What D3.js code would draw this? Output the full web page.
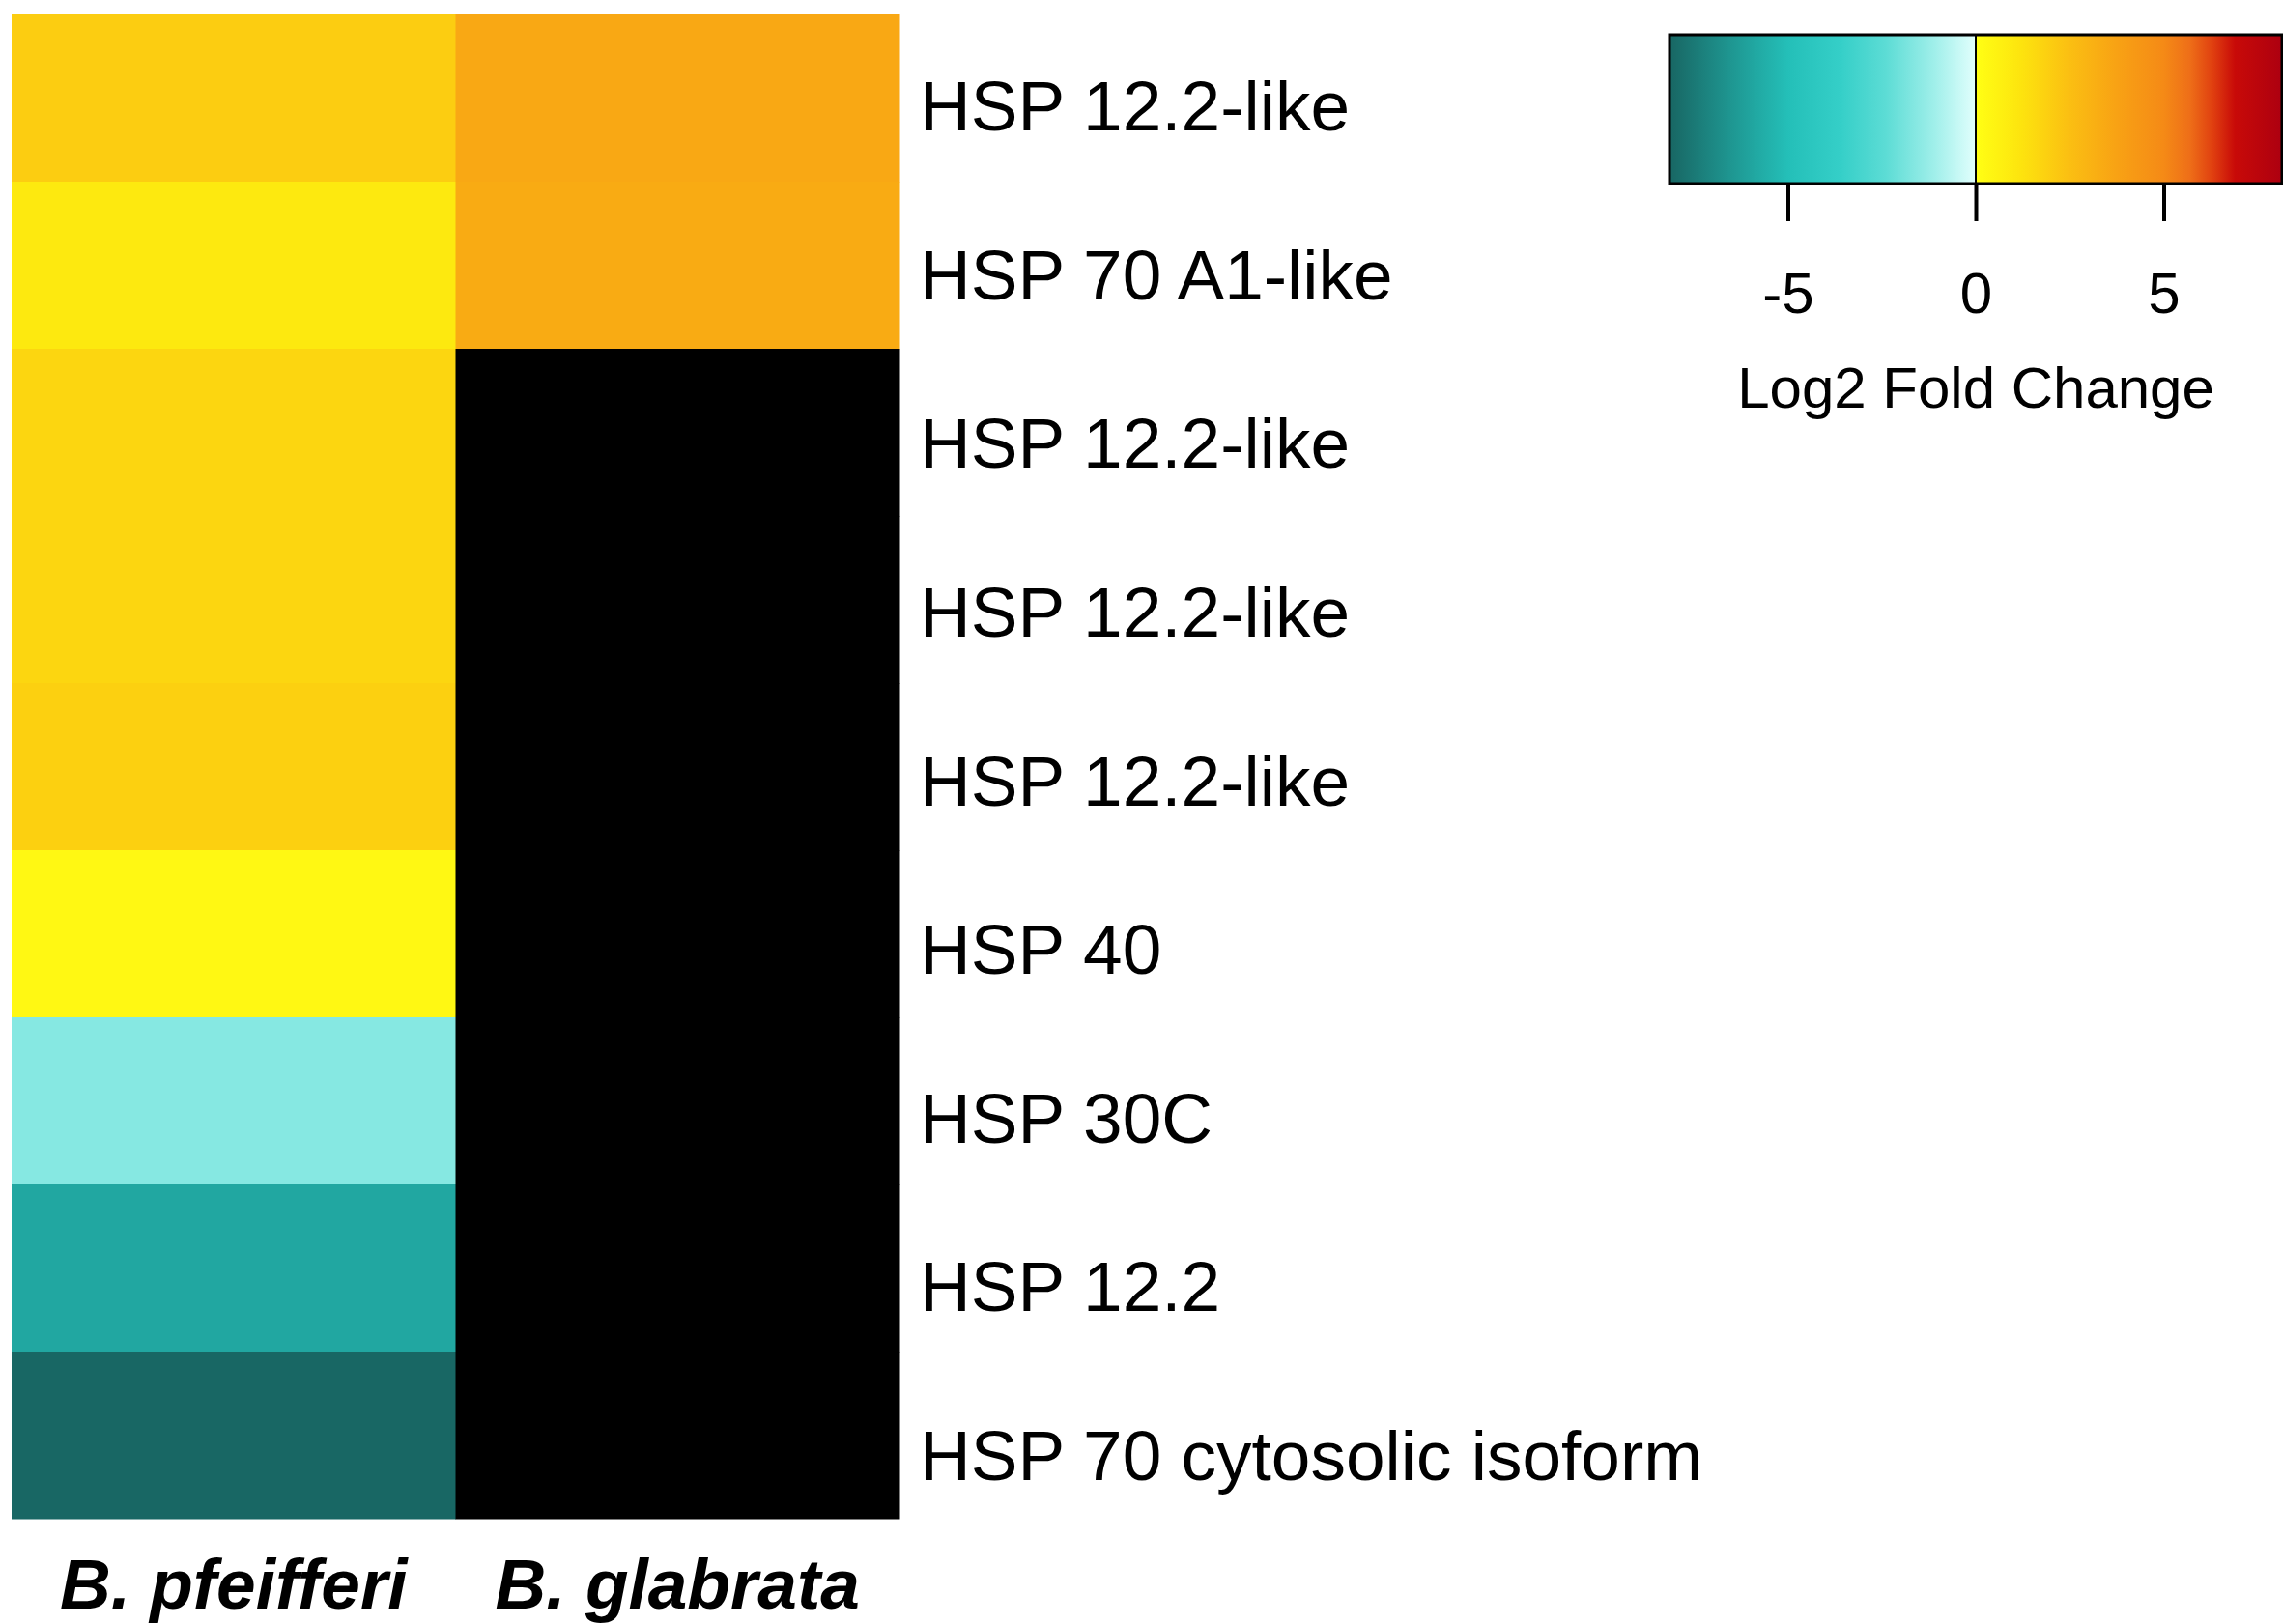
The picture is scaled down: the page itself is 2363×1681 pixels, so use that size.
<!DOCTYPE html>
<html>
<head>
<meta charset="utf-8">
<script src="https://cdn.jsdelivr.net/npm/d3@7"></script>
<style>
  body { margin: 0; background: #fff; }
  text { font-family: "Liberation Sans", Arial, sans-serif; fill: #000; }
</style>
</head>
<body>
<div class="heatContainer"></div>
<script>
// genes (rows, top to bottom)
const genes = ["HSP 12.2-like", "HSP 70 A1-like", "HSP 12.2-like", "HSP 12.2-like",
  "HSP 12.2-like", "HSP 40", "HSP 30C", "HSP 12.2", "HSP 70 cytosolic isoform"];
// species (columns)
const species = ["B. pfeifferi", "B. glabrata"];
// log2 fold change per species, null = not found
const pfeifferi = [2.0, 1.0, 1.7, 1.7, 1.9, 0.3, -1.6, -5.9, -8.1];
const glabrata = [3.5, 3.35, null, null, null, null, null, null, null];
// colour key
const keyTicks = [-5, 0, 5];
const keyDomain = [-8.15, 8.15];
const negStops = [-8.15, -6.6, -5, -3.6, -2.4, -1.1, 0];
const negColors = ["#186663", "#1e948f", "#24bfb8", "#35cfc8", "#5cdcd5", "#a0efea", "#e2fffd"];
const posStops = [0, 1.2, 2.45, 3.75, 5, 5.7, 6.3, 6.9, 8.15];
const posColors = ["#ffff14", "#fde40e", "#fbc012", "#f8a214", "#f58a16", "#ee6e18", "#e04010", "#c80a08", "#ad0010"];

const width = 2363, height = 1681;

const svg = d3.select(".heatContainer")
  .append("svg")
  .attr("width", width)
  .attr("height", height);

// two halves of the colour ramp, split at zero
const negScale = d3.scaleLinear().domain(negStops).range(negColors).clamp(true);
const posScale = d3.scaleLinear().domain(posStops).range(posColors).clamp(true);
function colorOf(v) {
  if (v === null) return "#000";
  return v < 0 ? negScale(v) : posScale(v);
}

// cells
const x = d3.scaleBand().domain(species).range([12, 931]);
const y = d3.scaleBand().domain(d3.range(genes.length)).range([15, 1572]);
// label baselines run on a slightly wider pitch than the rows
const yLabel = d3.scalePoint().domain(d3.range(genes.length)).range([135, 1532]);

const cells = [];
genes.forEach(function (g, i) {
  cells.push({ row: i, col: species[0], value: pfeifferi[i] });
  cells.push({ row: i, col: species[1], value: glabrata[i] });
});

svg.append("g").selectAll("rect")
  .data(cells)
  .enter()
  .append("rect")
  .attr("x", d => x(d.col))
  .attr("y", d => y(d.row))
  .attr("width", x.bandwidth() + 0.5)
  .attr("height", y.bandwidth() + 0.5)
  .attr("fill", d => colorOf(d.value));

// row labels
svg.append("g").selectAll("text")
  .data(genes)
  .enter()
  .append("text")
  .attr("x", 952)
  .attr("y", (d, i) => yLabel(i))
  .attr("font-size", 73)
  .text(d => d);

// column labels
svg.append("g").selectAll("text")
  .data(species)
  .enter()
  .append("text")
  .attr("x", d => x(d) + x.bandwidth() / 2)
  .attr("y", 1665)
  .attr("text-anchor", "middle")
  .attr("font-size", 73)
  .attr("font-weight", "bold")
  .attr("font-style", "italic")
  .text(d => d);

// colour key
const kx = d3.scaleLinear().domain(keyDomain).range([1728, 2362]);
const keyTop = 36, keyBottom = 190;
const key = svg.append("g");

const offset = d3.scaleLinear().domain(keyDomain).range([0, 100]);
const grad = svg.append("defs").append("linearGradient")
  .attr("id", "keyGrad")
  .attr("x1", "0%").attr("x2", "100%")
  .attr("y1", "0%").attr("y2", "0%");
const gradStops = negStops.map((s, i) => ({ v: s, c: negColors[i] }))
  .concat(posStops.map((s, i) => ({ v: s, c: posColors[i] })));
grad.selectAll("stop")
  .data(gradStops)
  .enter()
  .append("stop")
  .attr("offset", d => offset(d.v) + "%")
  .attr("stop-color", d => d.c);

key.append("rect")
  .attr("x", kx(keyDomain[0]))
  .attr("y", keyTop)
  .attr("width", kx(keyDomain[1]) - kx(keyDomain[0]))
  .attr("height", keyBottom - keyTop)
  .attr("fill", "url(#keyGrad)")
  .attr("stroke", "#000")
  .attr("stroke-width", 3);

key.append("line")
  .attr("x1", kx(0)).attr("x2", kx(0))
  .attr("y1", keyTop).attr("y2", keyBottom)
  .attr("stroke", "#000")
  .attr("stroke-width", 2);

const keyAxis = key.append("g")
  .attr("transform", `translate(0,${keyBottom})`)
  .call(d3.axisBottom(kx).tickValues(keyTicks).tickFormat(d => String(d))
    .tickSize(39).tickPadding(52));
keyAxis.select(".domain").remove();
keyAxis.selectAll(".tick line").attr("stroke", "#000").attr("stroke-width", 4);
keyAxis.selectAll(".tick text")
  .attr("font-size", 60)
  .attr("font-family", "Liberation Sans, Arial, sans-serif")
  .attr("fill", "#000");

key.append("text")
  .attr("x", kx(0))
  .attr("y", 422)
  .attr("text-anchor", "middle")
  .attr("font-size", 60)
  .text("Log2 Fold Change");
</script>
</body>
</html>
